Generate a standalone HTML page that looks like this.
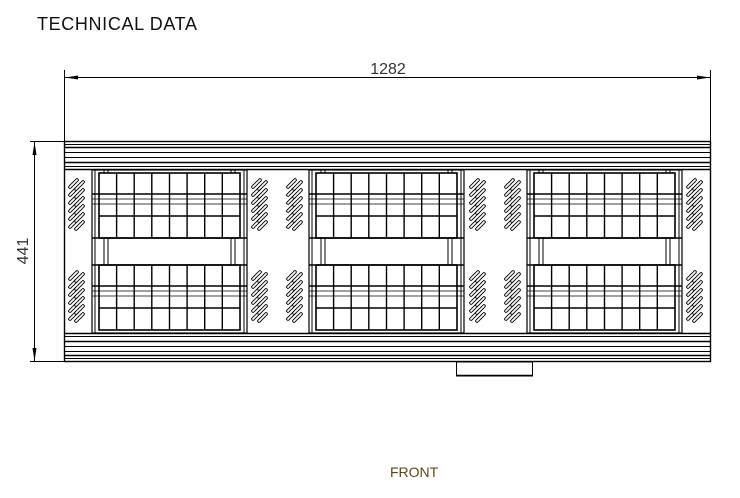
<!DOCTYPE html>
<html><head><meta charset="utf-8"><style>
html,body{margin:0;padding:0;background:#fff}
svg{display:block}
</style></head><body>
<svg width="740" height="498" viewBox="0 0 740 498" xmlns="http://www.w3.org/2000/svg" font-family="Liberation Sans, sans-serif">
<defs>
  <g id="slot"><line x1="0" y1="7" x2="7" y2="0" stroke="#000" stroke-width="3.6" stroke-linecap="round"/><line x1="0" y1="7" x2="7" y2="0" stroke="#fff" stroke-width="1.8" stroke-linecap="round"/></g>
  <g id="vent">
    <use href="#slot" x="0" y="0"/><use href="#slot" x="0" y="8"/><use href="#slot" x="0" y="16"/><use href="#slot" x="0" y="24"/><use href="#slot" x="0" y="32"/><use href="#slot" x="0" y="40"/>
    <use href="#slot" x="6" y="2"/><use href="#slot" x="6" y="10"/><use href="#slot" x="6" y="18"/><use href="#slot" x="6" y="26"/><use href="#slot" x="6" y="34"/><use href="#slot" x="6" y="42"/>
  </g>
  <g id="grid" fill="none" stroke="#000">
    <rect x="7" y="0" width="141" height="65" stroke-width="1.6"/>
    <line x1="24.6" y1="0" x2="24.6" y2="65" stroke-width="1.4"/>
    <line x1="42.2" y1="0" x2="42.2" y2="65" stroke-width="1.4"/>
    <line x1="59.8" y1="0" x2="59.8" y2="65" stroke-width="1.4"/>
    <line x1="77.5" y1="0" x2="77.5" y2="65" stroke-width="1.4"/>
    <line x1="95.1" y1="0" x2="95.1" y2="65" stroke-width="1.4"/>
    <line x1="112.7" y1="0" x2="112.7" y2="65" stroke-width="1.4"/>
    <line x1="130.3" y1="0" x2="130.3" y2="65" stroke-width="1.4"/>
    <line x1="0" y1="21" x2="155" y2="21" stroke-width="1.4"/>
    <line x1="0" y1="26" x2="155" y2="26" stroke-width="0.8"/>
    <line x1="0" y1="31" x2="155" y2="31" stroke-width="0.8"/>
    <line x1="7" y1="43" x2="148" y2="43" stroke-width="1.4"/>
  </g>
  <g id="module" fill="none" stroke="#000">
    <rect x="0" y="170" width="155" height="163" stroke-width="1.2"/>
    <line x1="3" y1="170" x2="3" y2="333" stroke-width="1"/>
    <line x1="152" y1="170" x2="152" y2="333" stroke-width="1"/>
    <use href="#grid" y="173"/>
    <use href="#grid" y="265"/>
    <line x1="0" y1="238" x2="155" y2="238" stroke-width="1.6"/>
    <line x1="0" y1="265" x2="155" y2="265" stroke-width="1.6"/>
    <line x1="12" y1="238" x2="12" y2="265" stroke-width="1"/>
    <line x1="16" y1="238" x2="16" y2="265" stroke-width="1"/>
    <line x1="139" y1="238" x2="139" y2="265" stroke-width="1"/>
    <line x1="143" y1="238" x2="143" y2="265" stroke-width="1"/>
    <line x1="12" y1="170" x2="12" y2="173" stroke-width="1"/>
    <line x1="16" y1="170" x2="16" y2="173" stroke-width="1"/>
    <line x1="139" y1="170" x2="139" y2="173" stroke-width="1"/>
    <line x1="143" y1="170" x2="143" y2="173" stroke-width="1"/>
  </g>
</defs>

<text x="37" y="30" font-size="18" textLength="160" fill="#111">TECHNICAL DATA</text>

<!-- horizontal dimension -->
<g stroke="#000" stroke-width="1" fill="none">
  <line x1="64.5" y1="70" x2="64.5" y2="141"/>
  <line x1="710.5" y1="70" x2="710.5" y2="141"/>
  <line x1="64.5" y1="77.5" x2="710.5" y2="77.5"/>
  <line x1="30" y1="141.5" x2="64" y2="141.5"/>
  <line x1="30" y1="361.5" x2="64" y2="361.5"/>
  <line x1="34.5" y1="141.5" x2="34.5" y2="361.5"/>
</g>
<g fill="#000">
  <polygon points="65,77.5 78,75.5 78,79.5"/>
  <polygon points="710,77.5 697,75.5 697,79.5"/>
  <polygon points="34.5,142 32.5,155 36.5,155"/>
  <polygon points="34.5,361 32.5,348 36.5,348"/>
</g>
<text x="388" y="74" font-size="16" fill="#333" text-anchor="middle">1282</text>
<text transform="translate(28,251) rotate(-90)" font-size="16" fill="#333" text-anchor="middle">441</text>

<!-- frame -->
<g fill="none" stroke="#000">
  <rect x="64.5" y="141.5" width="646" height="220" stroke-width="1.4"/>
  <line x1="64" y1="144.5" x2="711" y2="144.5" stroke-width="1"/>
  <line x1="64" y1="147.5" x2="711" y2="147.5" stroke-width="1.6"/>
  <line x1="64" y1="152.5" x2="711" y2="152.5" stroke-width="1"/>
  <line x1="64" y1="157.5" x2="711" y2="157.5" stroke-width="1"/>
  <line x1="64" y1="162.5" x2="711" y2="162.5" stroke-width="1.6"/>
  <line x1="64" y1="166.5" x2="711" y2="166.5" stroke-width="1"/>
  <line x1="64" y1="169.5" x2="711" y2="169.5" stroke-width="1.4"/>
  <line x1="64" y1="333.5" x2="711" y2="333.5" stroke-width="1.4"/>
  <line x1="64" y1="336.5" x2="711" y2="336.5" stroke-width="1"/>
  <line x1="64" y1="341.5" x2="711" y2="341.5" stroke-width="1.6"/>
  <line x1="64" y1="346.5" x2="711" y2="346.5" stroke-width="1"/>
  <line x1="64" y1="351.5" x2="711" y2="351.5" stroke-width="1"/>
  <line x1="64" y1="355.5" x2="711" y2="355.5" stroke-width="1.6"/>
  <line x1="64" y1="358.5" x2="711" y2="358.5" stroke-width="1"/>
  <rect x="456.5" y="362" width="76" height="14" stroke-width="1"/>
  <line x1="456" y1="375.5" x2="533" y2="375.5" stroke-width="1.6"/>
</g>

<use href="#module" x="92"/>
<use href="#module" x="309"/>
<use href="#module" x="527"/>

<use href="#vent" x="70" y="180"/>
<use href="#vent" x="70" y="272"/>
<use href="#vent" x="253" y="180"/>
<use href="#vent" x="253" y="272"/>
<use href="#vent" x="288" y="180"/>
<use href="#vent" x="288" y="272"/>
<use href="#vent" x="471" y="180"/>
<use href="#vent" x="471" y="272"/>
<use href="#vent" x="506" y="180"/>
<use href="#vent" x="506" y="272"/>
<use href="#vent" x="688" y="180"/>
<use href="#vent" x="688" y="272"/>

<text x="390" y="477" font-size="14" fill="#5a4a10">FRONT</text>
</svg>
</body></html>
